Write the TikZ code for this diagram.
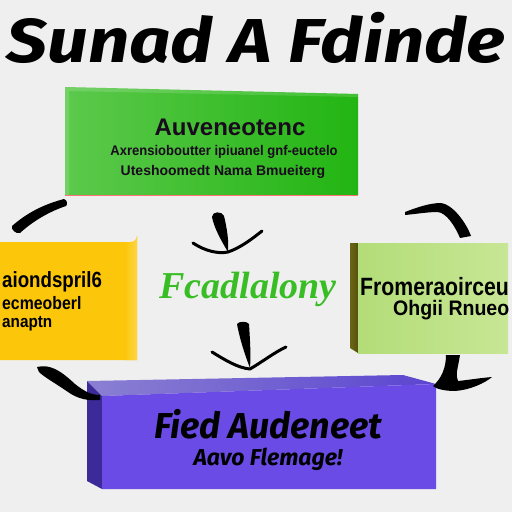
\documentclass[tikz,border=0pt]{standalone}
\usepackage{fontspec}
\setmainfont{Liberation Sans}
\newfontfamily\titlefont{Fira Sans}
\newfontfamily\scriptfam{Liberation Serif}
\definecolor{bgcol}{HTML}{EFEFEF}
\definecolor{grA}{HTML}{5CC94C}
\definecolor{grB}{HTML}{22B512}
\definecolor{ylA}{HTML}{FCC70A}
\definecolor{ylB}{HTML}{FDD545}
\definecolor{lgA}{HTML}{B3DD78}
\definecolor{lgB}{HTML}{C8E695}
\definecolor{olive}{HTML}{6B6614}
\definecolor{puFront}{HTML}{6B4BE6}
\definecolor{puTopA}{HTML}{8A80D2}
\definecolor{puTopB}{HTML}{5B45D0}
\definecolor{puSide}{HTML}{3C2A98}
\definecolor{txtdark}{HTML}{1A0A1E}
\definecolor{scriptgreen}{HTML}{38BE24}
\begin{document}
\begin{tikzpicture}[x=1pt,y=-1pt,
  boxtext/.style={text=txtdark, inner sep=0pt, anchor=base},
  brush/.style={fill=black},
  wing/.style={draw=black, line width=3pt, line cap=round, line join=round}]
\useasboundingbox (0,0) rectangle (512,512);
\clip (0,0) rectangle (512,512);
\fill[bgcol] (0,0) rectangle (512,512);

% title
\node[boxtext, text=black, font=\titlefont\bfseries\itshape\fontsize{62}{62}\selectfont, xscale=1.17] (title) at (256,62) {Sunad A Fdinde};

% green box
\shade[left color=grA, right color=grB] (65,87) -- (358,94) -- (358,195) -- (65,195) -- cycle;
\fill[white, opacity=0.15] (65,87) -- (358,94) -- (358,97) -- (69,91) -- (69,195) -- (65,195) -- cycle;
\draw[red!40!pink, line width=0.8pt] (65,195) -- (358,195);
\node[boxtext, font=\bfseries\fontsize{24}{24}\selectfont, xscale=1.0] (g1) at (230,135) {Auveneotenc};
\node[boxtext, font=\bfseries\fontsize{14}{14}\selectfont, xscale=0.93] (g2) at (224,155) {Axrensioboutter ipiuanel gnf-euctelo};
\node[boxtext, font=\bfseries\fontsize{14}{14}\selectfont, xscale=1.0] (g3) at (223,175) {Uteshoomedt Nama Bmueiterg};

% yellow box
\fill[ylA] (-5,242) -- (131,242) arc[start angle=90, end angle=0, radius=6] -- (137,360) -- (-5,360) -- cycle;
\shade[left color=ylA, right color=ylB] (125,242) -- (131,242) arc[start angle=90, end angle=0, radius=6] -- (137,360) -- (125,360) -- cycle;
\node[boxtext, anchor=base west, text=black, font=\bfseries\fontsize{22}{22}\selectfont, xscale=0.85] (y1) at (2,287) {aiondspril6};
\node[boxtext, anchor=base west, text=black, font=\bfseries\fontsize{18}{18}\selectfont, xscale=0.88] (y2) at (2,309) {ecmeoberl};
\node[boxtext, anchor=base west, text=black, font=\bfseries\fontsize{17}{17}\selectfont, xscale=0.9] (y3) at (2,327) {anaptn};

% light green box
\shade[left color=lgA, right color=lgB] (358,243) rectangle (508,353);
\shade[left color=olive, right color=olive!80!black] (350,243) -- (358,243) -- (358,353) -- (350,348) -- cycle;
\node[boxtext, anchor=base west, text=black, font=\bfseries\fontsize{25}{25}\selectfont, xscale=0.85] (l1) at (360,295) {Fromeraoirceu};
\node[boxtext, anchor=base west, text=black, font=\bfseries\fontsize{21}{21}\selectfont, xscale=0.93] (l2) at (393,315) {Ohgii Rnueo};

% centre script text
\node[boxtext, text=scriptgreen, font=\scriptfam\bfseries\itshape\fontsize{38}{38}\selectfont] (mid) at (248,298) {Fcadlalony};

% purple block
\shade[left color=puTopA, right color=puTopB] (87,381) -- (403,375) -- (436,384) -- (102,396) -- cycle;
\fill[puSide] (87,381) -- (102,396) -- (102,489) -- (87,481) -- cycle;
\fill[puFront] (102,396) -- (436,384) -- (436,489) -- (102,489) -- cycle;
\node[boxtext, text=black, font=\titlefont\bfseries\itshape\fontsize{36}{36}\selectfont] (p1) at (268,438) {Fied Audeneet};
\node[boxtext, text=black, font=\titlefont\bfseries\itshape\fontsize{23}{23}\selectfont] (p2) at (268,465) {Aavo Flemage!};

% brush arrows
\fill[brush] (12,226) .. controls (28,212) and (45,204) .. (64,199) .. controls (67,200) and (68,204) .. (66,206) .. controls (48,212) and (32,222) .. (20,233) .. controls (16,234) and (11,230) .. (12,226) -- cycle;
\fill[brush] (405,212) .. controls (418,207) and (430,203) .. (441,203) .. controls (452,204) and (466,222) .. (471,236) -- (460,238) .. controls (455,226) and (446,212) .. (437,212) .. controls (428,212) and (416,214) .. (405,215) -- cycle;
\fill[brush] (212,217) .. controls (212,211) and (222,211) .. (224,216) .. controls (227,228) and (229,242) .. (228,252) .. controls (222,242) and (214,228) .. (212,217) -- cycle;
\draw[wing] (193,243) .. controls (205,251) and (218,254) .. (228,252) .. controls (240,248) and (252,239) .. (262,231);
\fill[brush] (237,324) .. controls (239,321) and (247,321) .. (249,324) .. controls (250,340) and (251,355) .. (250,368) .. controls (245,355) and (240,340) .. (237,324) -- cycle;
\draw[wing] (212,352) .. controls (225,360) and (238,368) .. (250,369) .. controls (262,362) and (275,352) .. (286,347);
\fill[brush] (37,367) .. controls (50,364) and (60,370) .. (75,384) .. controls (85,392) and (92,395) .. (100,395) -- (100,400) .. controls (88,401) and (78,399) .. (68,392) .. controls (55,383) and (44,377) .. (39,372) -- cycle;
\fill[brush] (446,355) -- (460,355) .. controls (458,368) and (455,375) .. (458,381) .. controls (468,380) and (480,378) .. (492,377) .. controls (485,383) and (470,390) .. (455,391) .. controls (445,391) and (436,389) .. (433,386) .. controls (442,378) and (446,367) .. (446,355) -- cycle;
\end{tikzpicture}
\end{document}
